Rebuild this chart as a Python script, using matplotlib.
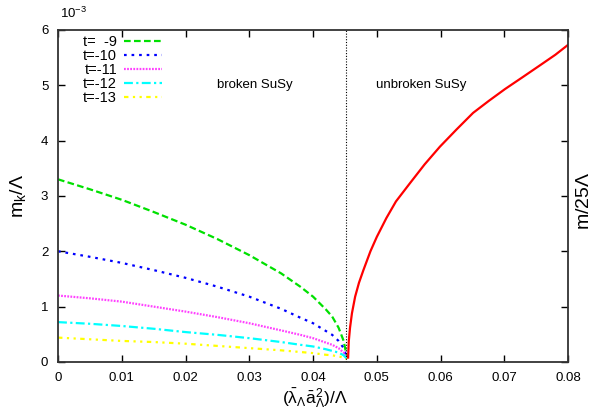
import matplotlib
matplotlib.use("Agg")
import matplotlib.pyplot as plt

plt.rcParams['font.family'] = ['Liberation Sans', 'DejaVu Sans']
plt.rcParams['mathtext.fontset'] = 'custom'
plt.rcParams['mathtext.rm'] = 'Liberation Sans'
plt.rcParams['mathtext.it'] = 'Liberation Sans'

# broken-SuSy region (values in units of 1e-3)
x_broken = [0.0, 0.005, 0.01, 0.015, 0.02, 0.025, 0.03, 0.035, 0.038, 0.04, 0.042, 0.043, 0.044, 0.0448, 0.0453]
m_t9  = [3.30, 3.12, 2.93, 2.71, 2.48, 2.22, 1.93, 1.60, 1.36, 1.18, 0.95, 0.82, 0.62, 0.38, 0.09]
m_t10 = [2.00, 1.90, 1.79, 1.66, 1.52, 1.36, 1.18, 0.96, 0.80, 0.70, 0.56, 0.49, 0.38, 0.25, 0.08]
m_t11 = [1.20, 1.15, 1.09, 1.00, 0.91, 0.81, 0.70, 0.57, 0.49, 0.43, 0.35, 0.31, 0.25, 0.17, 0.07]
m_t12 = [0.72, 0.69, 0.65, 0.60, 0.54, 0.49, 0.43, 0.36, 0.31, 0.28, 0.23, 0.20, 0.17, 0.12, 0.06]
m_t13 = [0.44, 0.41, 0.38, 0.36, 0.33, 0.29, 0.25, 0.21, 0.18, 0.16, 0.13, 0.12, 0.10, 0.08, 0.05]
labels = ["t=  -9", "t=-10", "t=-11", "t=-12", "t=-13"]

# unbroken-SuSy region (right axis: m/25Lambda, same scale)
x_unbroken = [0.0455, 0.0456, 0.0458, 0.0461, 0.0466, 0.0472, 0.0479, 0.049, 0.05, 0.0515, 0.053,
              0.0552, 0.0575, 0.0599, 0.0625, 0.0651, 0.0676, 0.0701, 0.0728, 0.0756, 0.078, 0.08]
m_unbroken = [0.08, 0.37, 0.62, 0.88, 1.18, 1.43, 1.66, 2.00, 2.26, 2.60, 2.90,
              3.23, 3.57, 3.89, 4.20, 4.50, 4.72, 4.93, 5.14, 5.36, 5.55, 5.73]

x_transition = 0.0451

fig = plt.figure(figsize=(5.98, 4.09), dpi=100)
ax = fig.add_axes([0.097, 0.115, 0.853, 0.812])

styles = [
    dict(color="#00e000", linestyle=(0, (3, 1.5))),
    dict(color="#0000ff", linestyle=(0, (1.2, 2.2))),
    dict(color="#ff40ff", linestyle=(0, (0.8, 0.6))),
    dict(color="#00ffff", linestyle=(0, (4, 1.5, 1, 1.5))),
    dict(color="#ffff00", linestyle=(0, (2, 2, 1, 2, 1, 2))),
]
series = [m_t9, m_t10, m_t11, m_t12, m_t13]
for ys, lab, st in zip(series, labels, styles):
    ax.plot(x_broken, ys, lw=1.6, label=lab, **st)

ax.plot(x_unbroken, m_unbroken, color="#ff0000", lw=1.6)
ax.axvline(x_transition, color="black", lw=0.8, linestyle=(0, (1, 1.5)))

ax.set_xlim(0, 0.08)
ax.set_ylim(0, 6)
ax.set_xticks([0, 0.01, 0.02, 0.03, 0.04, 0.05, 0.06, 0.07, 0.08])
ax.set_xticklabels(["0", "0.01", "0.02", "0.03", "0.04", "0.05", "0.06", "0.07", "0.08"])
ax.set_yticks([0, 1, 2, 3, 4, 5, 6])
ax.tick_params(direction="in", length=5, width=1, top=True, right=True,
               labelsize=9.5, pad=7)
for sp in ax.spines.values():
    sp.set_linewidth(1.3)
    sp.set_color("#333333")

ax.text(0.0309, 5.01, "broken SuSy", ha="center", va="center", fontsize=9.5)
ax.text(0.0570, 5.01, "unbroken SuSy", ha="center", va="center", fontsize=9.5)

fig.text(0.1, 0.948, r"10$^{-3}$", fontsize=9.5, ha="left", va="bottom")

ax.set_ylabel(r"m$_\mathrm{k}$/$\Lambda$", fontsize=14, labelpad=9)
fig.text(0.527, 0.027, r"($\bar{\lambda}_\Lambda\bar{a}_\Lambda^2$)/$\Lambda$", fontsize=12.5,
         ha="center", va="center")
fig.text(0.977, 0.51, r"m/25$\Lambda$", rotation=90, fontsize=14, ha="center", va="center")

ax.legend(loc="upper left", frameon=False, markerfirst=False, fontsize=10.5,
          handlelength=2.6, handletextpad=0.5, labelspacing=0.0,
          borderaxespad=0.2, bbox_to_anchor=(0.032, 1.012))

fig.savefig("out.png", dpi=100)
